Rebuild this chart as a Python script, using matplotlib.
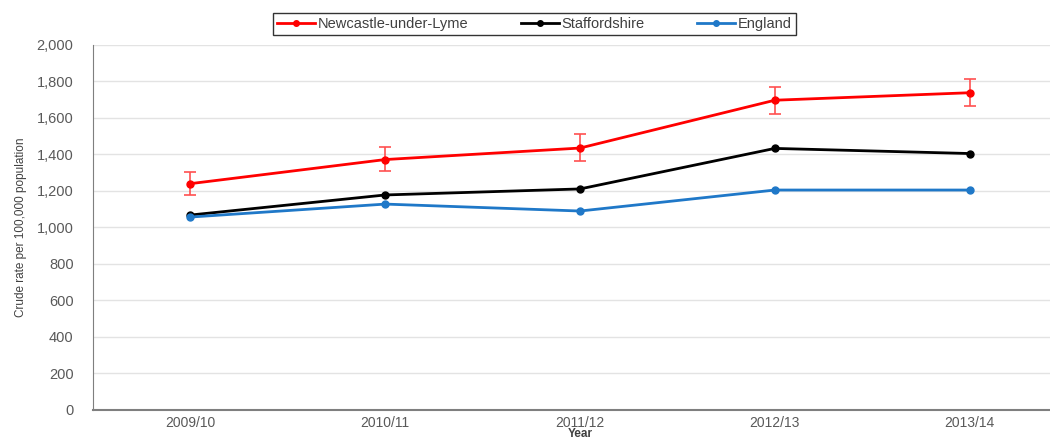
import matplotlib.pyplot as plt

plt.rcParams['font.family'] = ['Liberation Sans', 'DejaVu Sans']

# crude rate per 100,000 population
years = ["2009/10", "2010/11", "2011/12", "2012/13", "2013/14"]
newcastle = [1240, 1372, 1435, 1697, 1738]
newcastle_lo = [1180, 1308, 1365, 1624, 1666]
newcastle_hi = [1304, 1438, 1510, 1770, 1812]
staffordshire = [1068, 1178, 1211, 1433, 1405]
england = [1057, 1128, 1090, 1205, 1205]

fig = plt.figure(figsize=(10.5, 4.42), dpi=100)
ax = fig.add_axes([0.0886, 0.0724, 0.9276, 0.826])

x = range(len(years))
err = [[v - lo for v, lo in zip(newcastle, newcastle_lo)],
       [hi - v for v, hi in zip(newcastle, newcastle_hi)]]

ax.errorbar(x, newcastle, yerr=err, fmt='none', ecolor='#ff5050',
            elinewidth=1.2, capsize=4, capthick=1.2, zorder=3)
ax.plot(x, newcastle, color='#ff0000', lw=2, marker='o', ms=5,
        label='Newcastle-under-Lyme', zorder=4)
ax.plot(x, staffordshire, color='#000000', lw=2, marker='o', ms=5,
        label='Staffordshire', zorder=4)
ax.plot(x, england, color='#1f78c8', lw=2, marker='o', ms=5,
        label='England', zorder=4)

ax.set_xlim(-0.5, len(years) - 0.5)
ax.set_ylim(0, 2000)
ax.set_yticks(range(0, 2001, 200))
ax.yaxis.set_major_formatter(plt.FuncFormatter(lambda v, p: f"{int(v):,}"))
ax.set_xticks(list(x))
ax.set_xticklabels(years)

ax.grid(axis='y', color='#e3e3e3', lw=1)
ax.set_axisbelow(True)
for s in ('top', 'right'):
    ax.spines[s].set_visible(False)
ax.spines['left'].set_color('#7f7f7f')
ax.spines['bottom'].set_color('#7f7f7f')
ax.spines['bottom'].set_linewidth(1.5)
ax.tick_params(axis='y', length=0, labelsize=10.5, colors='#595959', pad=14)
ax.tick_params(axis='x', length=0, labelsize=10, colors='#595959', pad=4)

ax.set_ylabel('Crude rate per 100,000 population', fontsize=8.5,
              color='#404040', labelpad=7)
ax.set_xlabel('Year', fontsize=8.5, fontweight='bold', color='#404040')
ax.xaxis.set_label_coords(0.5, -0.048)

leg = ax.legend(loc='center', bbox_to_anchor=(0.509, 0.9457), bbox_transform=fig.transFigure,
                ncol=3, fontsize=10.5, frameon=True, fancybox=False, handlelength=2.6,
                columnspacing=3.6, borderpad=0.25, borderaxespad=0, handletextpad=0.2,
                markerscale=0.8)
leg.get_frame().set_edgecolor('#000000')
leg.get_frame().set_linewidth(1)
for t in leg.get_texts():
    t.set_color('#404040')

fig.savefig('out.png', dpi=100)
